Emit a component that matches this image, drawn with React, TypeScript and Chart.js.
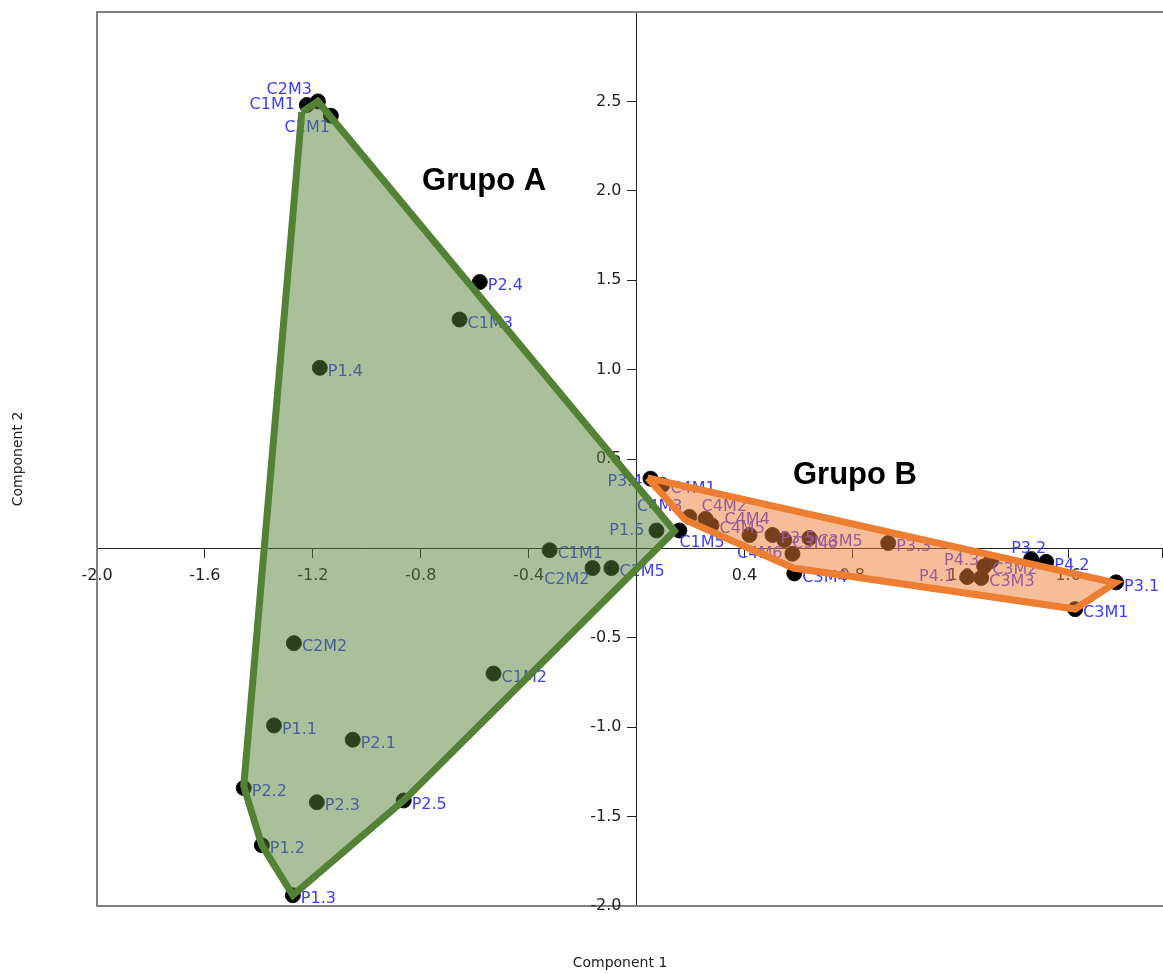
import React, { useEffect, useRef } from 'react';
import { Chart, registerables } from 'chart.js';

Chart.register(...registerables);

// ---- Data (Component 1 / Component 2 scores) ----
const groupANames = ['C1M1', 'C2M3', 'C2M1', 'P2.4', 'C1M3', 'P1.4', 'C1M1', 'C2M2', 'C2M5', 'P1.5', 'C1M5', 'C2M2', 'C1M2', 'P1.1', 'P2.1', 'P2.2', 'P2.3', 'P2.5', 'P1.2', 'P1.3'];
const groupAX = [-1.222, -1.181, -1.133, -0.581, -0.656, -1.174, -0.322, -0.163, -0.093, 0.074, 0.159, -1.27, -0.53, -1.344, -1.052, -1.456, -1.185, -0.863, -1.389, -1.274];
const groupAY = [2.48, 2.5, 2.42, 1.49, 1.28, 1.01, -0.01, -0.11, -0.11, 0.1, 0.1, -0.53, -0.7, -0.99, -1.07, -1.34, -1.42, -1.41, -1.66, -1.94];

const groupBNames = ['P3.4', 'C4M1', 'C4M3', 'C4M2', 'C4M5', 'C4M4', 'P3.5', 'C3M6', 'C3M5', 'C4M6', 'C3M4', 'P3.3', 'P4.3', 'C3M2', 'P4.1', 'C3M3', 'P3.2', 'P4.2', 'P3.1', 'C3M1'];
const groupBX = [0.052, 0.096, 0.196, 0.256, 0.278, 0.419, 0.504, 0.548, 0.641, 0.578, 0.585, 0.933, 1.315, 1.289, 1.226, 1.278, 1.463, 1.519, 1.778, 1.626];
const groupBY = [0.39, 0.355, 0.176, 0.165, 0.13, 0.075, 0.075, 0.047, 0.058, -0.03, -0.14, 0.03, -0.07, -0.1, -0.16, -0.165, -0.06, -0.075, -0.19, -0.34];

// hand-drawn group outlines (data units)
const hullAX = [-1.241, -1.181, 0.141, -0.863, -1.274, -1.389, -1.456];
const hullAY = [2.44, 2.5, 0.097, -1.41, -1.94, -1.66, -1.33];
const hullBX = [0.041, 1.774, 1.626, 0.581, 0.181];
const hullBY = [0.394, -0.193, -0.339, -0.11, 0.159];

const groupTitles = ['Grupo A', 'Grupo B'];
const groupTitleX = [-0.565, 0.81];
const groupTitleY = [2.05, 0.41];

const xTickLabels = ['-2.0', '-1.6', '-1.2', '-0.8', '-0.4', '0.4', '0.8', '1.2', '1.6'];
const yTickLabels = ['-2.0', '-1.5', '-1.0', '-0.5', '0.5', '1.0', '1.5', '2.0', '2.5'];
const xAxisTitle = 'Component 1';
const yAxisTitle = 'Component 2';

// label placement overrides: [dx, dy, align]
const labelPlacement: Record<string, [number, number, CanvasTextAlign]> = {
  A0: [-12, 0, 'right'],
  A1: [-6, -12, 'right'],
  A2: [-1, 12, 'right'],
  A7: [-3, 12, 'right'],
  A9: [-12, 0, 'right'],
  A10: [0, 12, 'left'],
  B0: [-8, 3, 'right'],
  B2: [-7, -10, 'right'],
  B3: [-4, -12, 'left'],
  B5: [-25, -15, 'left'],
  B9: [-10, 0, 'right'],
  B12: [-12, 0, 'right'],
  B14: [-13, 0, 'right'],
  B16: [-20, -10, 'left'],
};

const toPts = (xs: number[], ys: number[]) => xs.map((x, i) => ({ x, y: ys[i] }));
const closed = (xs: number[], ys: number[]) => {
  const p = toPts(xs, ys);
  return [...p, p[0]];
};

const decorPlugin = {
  id: 'decor',
  beforeDatasetsDraw(chart: any) {
    const { ctx, chartArea: ca } = chart;
    const xs = chart.scales.x;
    const ys = chart.scales.y;
    ctx.save();
    ctx.strokeStyle = '#808080';
    ctx.lineWidth = 2;
    ctx.beginPath();
    ctx.moveTo(ca.right + 4, ca.top);
    ctx.lineTo(ca.left, ca.top);
    ctx.lineTo(ca.left, ca.bottom);
    ctx.lineTo(ca.right + 4, ca.bottom);
    ctx.stroke();

    const y0 = ys.getPixelForValue(0);
    const x0 = xs.getPixelForValue(0);
    ctx.fillStyle = '#222';
    ctx.font = '16px "DejaVu Sans"';
    ctx.textAlign = 'center';
    ctx.textBaseline = 'middle';
    xTickLabels.forEach((t) => ctx.fillText(t, xs.getPixelForValue(parseFloat(t)), y0 + 27));
    ctx.textAlign = 'right';
    yTickLabels.forEach((t) => ctx.fillText(t, x0 - 15, ys.getPixelForValue(parseFloat(t))));

    ctx.font = '14px "DejaVu Sans"';
    ctx.textAlign = 'center';
    ctx.fillText(xAxisTitle, 620, ca.bottom + 57);
    ctx.save();
    ctx.translate(ca.left - 79, (ca.top + ca.bottom) / 2);
    ctx.rotate(-Math.PI / 2);
    ctx.fillText(yAxisTitle, 0, 0);
    ctx.restore();
    ctx.restore();
  },
  afterDatasetDraw(chart: any, args: any) {
    const ds = chart.data.datasets[args.index];
    if (!ds.pointNames) return;
    const { ctx } = chart;
    ctx.save();
    ctx.font = '16px "DejaVu Sans"';
    ctx.fillStyle = '#3c3cff';
    ctx.textBaseline = 'middle';
    args.meta.data.forEach((el: any, i: number) => {
      const key = ds.groupKey + i;
      const [dx, dy, align] = labelPlacement[key] || [8, 4, 'left'];
      ctx.textAlign = align;
      ctx.fillText(ds.pointNames[i], el.x + dx, el.y + dy);
    });
    ctx.restore();
  },
  afterDatasetsDraw(chart: any) {
    const { ctx } = chart;
    const xs = chart.scales.x;
    const ys = chart.scales.y;
    ctx.save();
    ctx.font = 'bold 31px "Liberation Sans", Arial, sans-serif';
    ctx.fillStyle = '#000';
    ctx.textAlign = 'center';
    ctx.textBaseline = 'middle';
    groupTitles.forEach((t, i) => {
      ctx.fillText(t, xs.getPixelForValue(groupTitleX[i]), ys.getPixelForValue(groupTitleY[i]));
    });
    ctx.restore();
  },
};

export default function App() {
  const ref = useRef<HTMLCanvasElement>(null);
  useEffect(() => {
    if (!ref.current) return;
    const axisCommon = {
      type: 'linear' as const,
      ticks: { display: false },
      grid: { drawOnChartArea: false, drawTicks: true, tickLength: 9, color: '#222', tickWidth: 1 },
      border: { display: true, color: '#222', width: 1 },
    };
    const chart = new Chart(ref.current, {
      type: 'scatter',
      data: {
        datasets: [
          {
            data: closed(hullAX, hullAY),
            showLine: true,
            fill: 'shape',
            backgroundColor: 'rgba(84,130,53,0.5)',
            borderColor: '#548235',
            borderWidth: 7,
            borderJoinStyle: 'miter',
            pointRadius: 0,
            tension: 0,
            order: 0,
          } as any,
          {
            data: closed(hullBX, hullBY),
            showLine: true,
            fill: 'shape',
            backgroundColor: 'rgba(237,125,49,0.5)',
            borderColor: '#ED7D31',
            borderWidth: 7,
            borderJoinStyle: 'miter',
            pointRadius: 0,
            tension: 0,
            order: 0,
          } as any,
          {
            data: toPts(groupAX, groupAY),
            pointNames: groupANames,
            groupKey: 'A',
            backgroundColor: '#000',
            borderColor: '#111',
            borderWidth: 1,
            pointRadius: 7.5,
            order: 1,
          } as any,
          {
            data: toPts(groupBX, groupBY),
            pointNames: groupBNames,
            groupKey: 'B',
            backgroundColor: '#000',
            borderColor: '#111',
            borderWidth: 1,
            pointRadius: 7.5,
            order: 1,
          } as any,
        ],
      },
      options: {
        animation: false,
        responsive: false,
        maintainAspectRatio: false,
        devicePixelRatio: 1,
        events: [],
        layout: { padding: { left: 97, top: 12, right: 0, bottom: 67 } },
        plugins: { legend: { display: false }, tooltip: { enabled: false } },
        scales: {
          x: {
            ...axisCommon,
            min: -2,
            max: 1.95,
            position: { y: 0 },
            ticks: { display: false, stepSize: 0.4 },
            afterFit: (s: any) => { s.height = 0; },
          },
          y: {
            ...axisCommon,
            min: -2,
            max: 3,
            position: { x: 0 },
            ticks: { display: false, stepSize: 0.5 },
            afterFit: (s: any) => { s.width = 0; },
          },
        } as any,
      },
      plugins: [decorPlugin],
    });
    return () => chart.destroy();
  }, []);

  return (
    <div style={{ position: 'absolute', left: 0, top: 0, width: 1163, height: 973, background: '#fff', overflow: 'hidden' }}>
      <canvas ref={ref} width={1171} height={973} style={{ display: 'block' }} />
    </div>
  );
}
